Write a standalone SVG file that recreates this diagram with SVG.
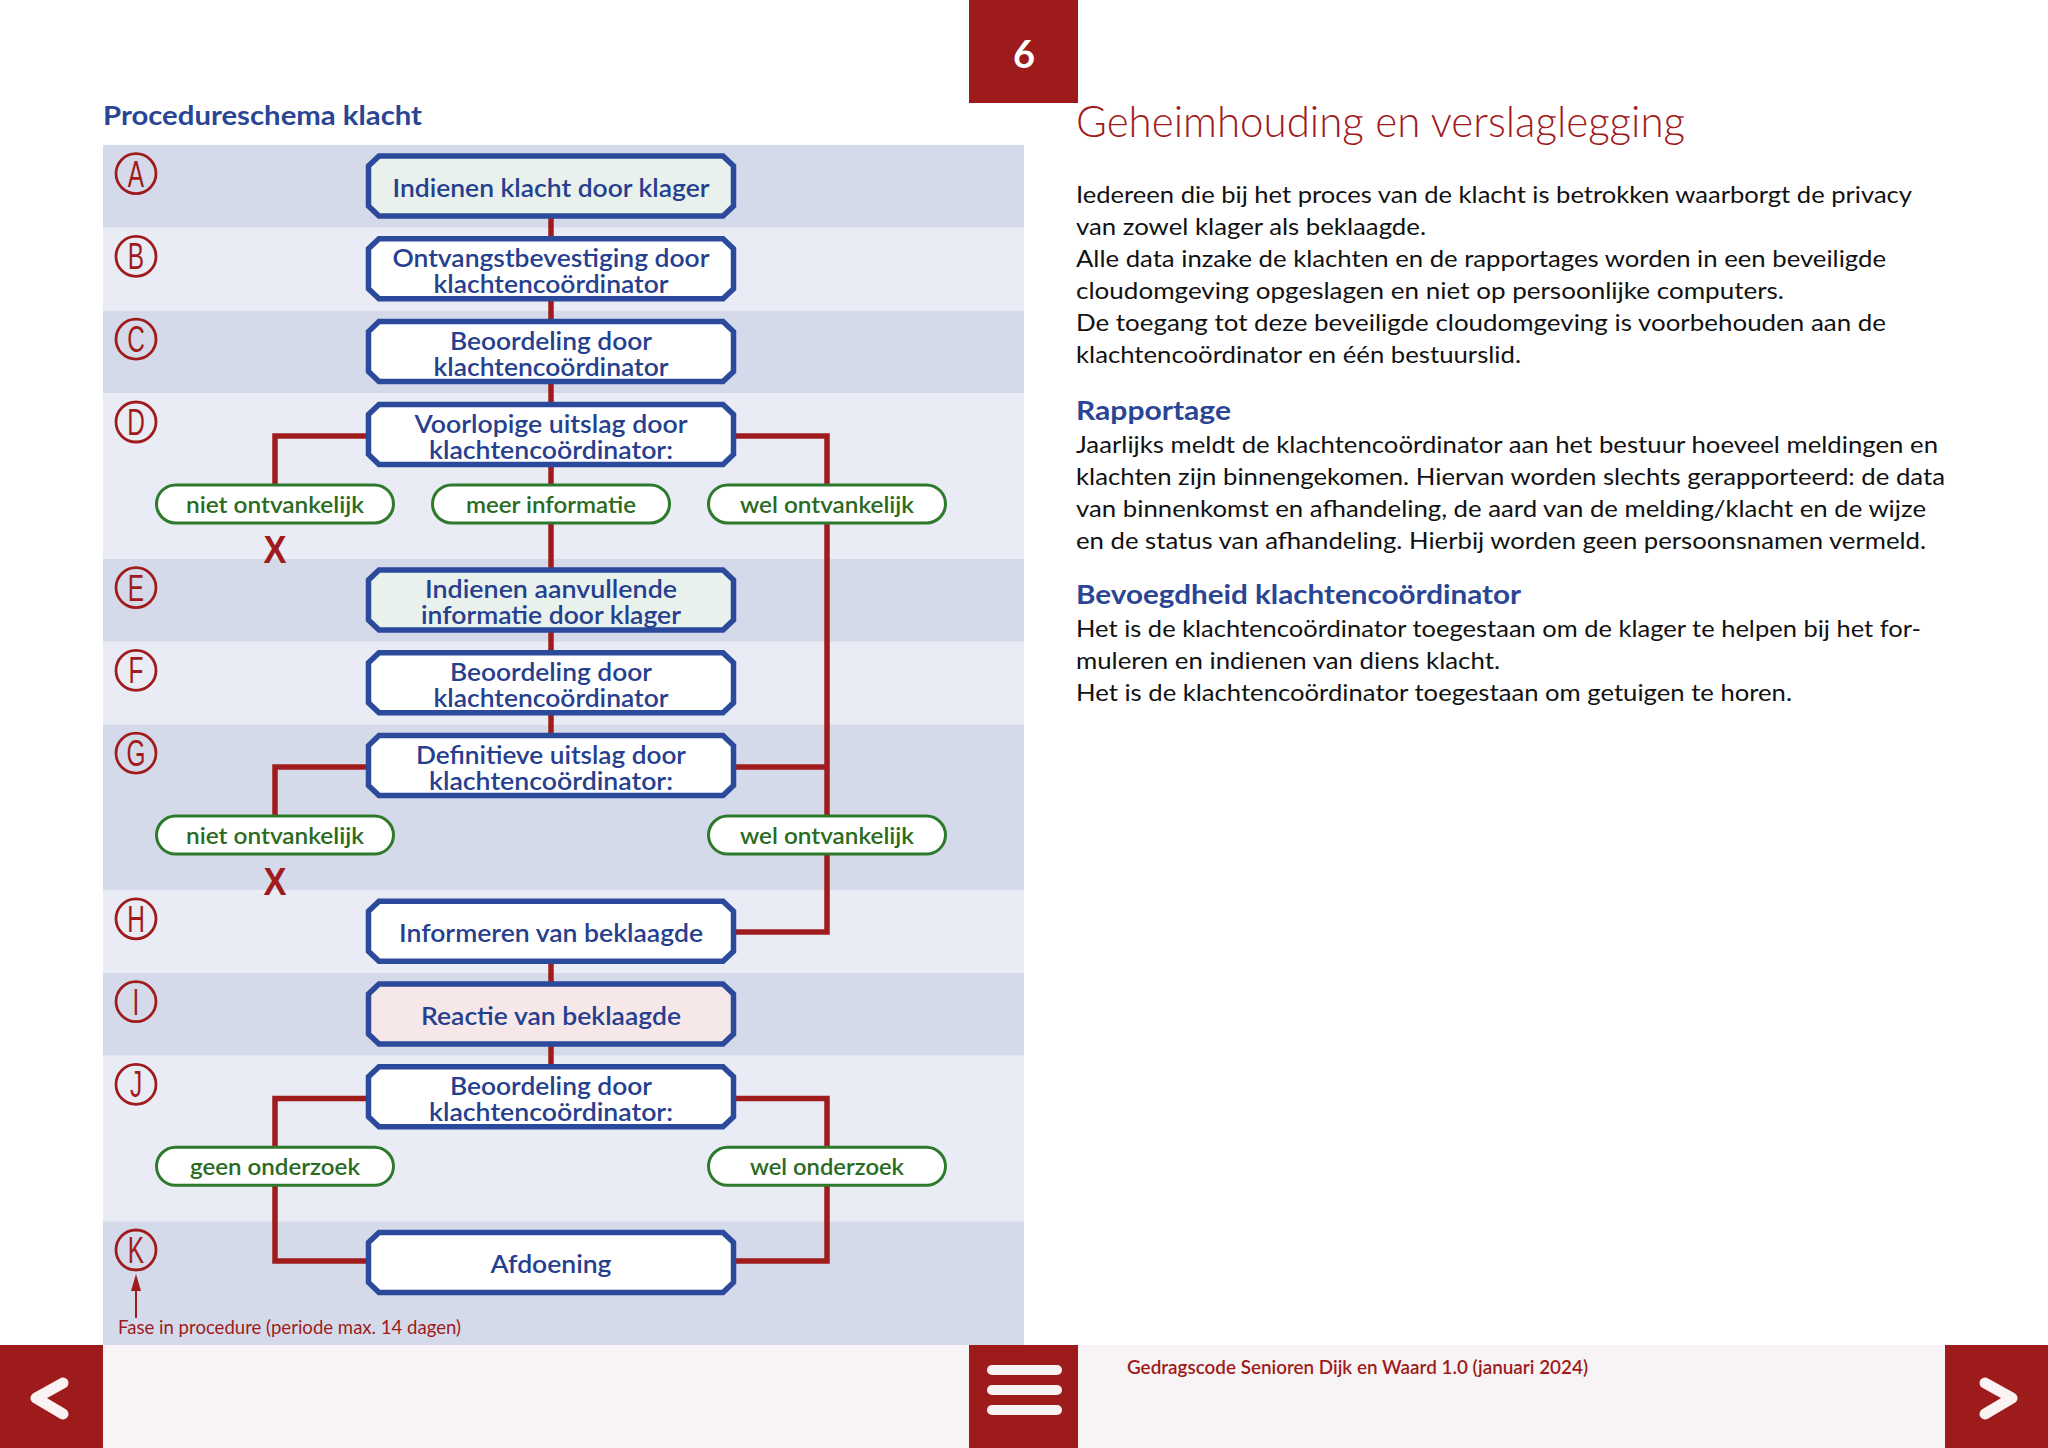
<svg xmlns="http://www.w3.org/2000/svg" width="2048" height="1448" viewBox="0 0 2048 1448">
<defs>
<style>
.bandD{fill:#d4daea}
.bandL{fill:#e9ebf5}
.node{stroke:#2b4a9b;stroke-width:5.5;stroke-linejoin:miter}
.nw{fill:#ffffff}
.ng{fill:#e8f1ec}
.np{fill:#f6e7e9}
.nt{font-family:Lato,"Open Sans","Liberation Sans",sans-serif;font-weight:600;font-size:25.5px;fill:#263f8e;text-anchor:middle}
.pill{fill:#ffffff;stroke:#2d7a2d;stroke-width:3}
.pt{font-family:Lato,"Open Sans","Liberation Sans",sans-serif;font-weight:600;font-size:23px;fill:#2a6b1f;text-anchor:middle}
.con{fill:none;stroke:#a01c1c;stroke-width:5.5}
.circ{fill:none;stroke:#a01c1c;stroke-width:2.8}
.cl{font-family:"Liberation Sans",Arial,sans-serif;font-size:37px;fill:#a01c1c;text-anchor:middle}
.xm{font-family:"Liberation Sans",Arial,sans-serif;font-weight:700;font-size:38px;fill:#a01c1c;text-anchor:middle}
.body{font-family:Lato,"Open Sans","Liberation Sans",sans-serif;font-size:24px;fill:#111111}
.h2{font-family:Lato,"Open Sans","Liberation Sans",sans-serif;font-weight:700;font-size:26px;fill:#2a4593}
.red{fill:#9e1b1b}
.chev{fill:none;stroke:#fbf3f3;stroke-width:11;stroke-linecap:round;stroke-linejoin:round}
</style>
</defs>
<rect x="0" y="0" width="2048" height="1448" fill="#ffffff"/>

<!-- bands -->
<g id="bands">
<rect class="bandD" x="103" y="145" width="921" height="82.8"/>
<rect class="bandL" x="103" y="227.8" width="921" height="82.8"/>
<rect class="bandD" x="103" y="310.6" width="921" height="82.8"/>
<rect class="bandL" x="103" y="393.4" width="921" height="165.6"/>
<rect class="bandD" x="103" y="559" width="921" height="82.8"/>
<rect class="bandL" x="103" y="641.8" width="921" height="82.8"/>
<rect class="bandD" x="103" y="724.6" width="921" height="165.6"/>
<rect class="bandL" x="103" y="890.2" width="921" height="82.8"/>
<rect class="bandD" x="103" y="973" width="921" height="82.8"/>
<rect class="bandL" x="103" y="1055.8" width="921" height="165.6"/>
<rect class="bandD" x="103" y="1221.4" width="921" height="123.6"/>
</g>

<text x="103" y="125" class="h2" textLength="319" lengthAdjust="spacingAndGlyphs">Procedureschema klacht</text>

<!-- phase letters -->
<g id="phases">
<circle class="circ" cx="136" cy="173.6" r="20"/><text class="cl" transform="translate(136,186.6) scale(0.66,1)">A</text>
<circle class="circ" cx="136" cy="256.4" r="20"/><text class="cl" transform="translate(136,269.4) scale(0.66,1)">B</text>
<circle class="circ" cx="136" cy="339.2" r="20"/><text class="cl" transform="translate(136,352.2) scale(0.66,1)">C</text>
<circle class="circ" cx="136" cy="422" r="20"/><text class="cl" transform="translate(136,435) scale(0.66,1)">D</text>
<circle class="circ" cx="136" cy="587.6" r="20"/><text class="cl" transform="translate(136,600.6) scale(0.66,1)">E</text>
<circle class="circ" cx="136" cy="670.4" r="20"/><text class="cl" transform="translate(136,683.4) scale(0.66,1)">F</text>
<circle class="circ" cx="136" cy="753.2" r="20"/><text class="cl" transform="translate(136,766.2) scale(0.66,1)">G</text>
<circle class="circ" cx="136" cy="918.8" r="20"/><text class="cl" transform="translate(136,931.8) scale(0.66,1)">H</text>
<circle class="circ" cx="136" cy="1001.6" r="20"/><text class="cl" transform="translate(136,1014.6) scale(0.66,1)">I</text>
<circle class="circ" cx="136" cy="1084.4" r="20"/><text class="cl" transform="translate(136,1097.4) scale(0.66,1)">J</text>
<circle class="circ" cx="136" cy="1250" r="20"/><text class="cl" transform="translate(136,1263) scale(0.66,1)">K</text>
<line x1="136" y1="1318" x2="136" y2="1288" stroke="#a01c1c" stroke-width="2"/>
<polygon points="136,1274 131,1291 141,1291" fill="#a01c1c"/>
<text x="118" y="1334" font-family="Lato,'Open Sans','Liberation Sans',sans-serif" font-size="19" fill="#9e1b1b" textLength="343" lengthAdjust="spacingAndGlyphs">Fase in procedure (periode max. 14 dagen)</text>
</g>

<!-- connectors -->
<g id="connectors">
<path class="con" d="M551 186 V268.8"/>
<path class="con" d="M551 268.8 V351.6"/>
<path class="con" d="M551 351.6 V434.4"/>
<path class="con" d="M551 434.4 V484"/>
<path class="con" d="M551 524 V600"/>
<path class="con" d="M369 436 H275 V484"/>
<path class="con" d="M733 436 H827 V484"/>
<path class="con" d="M827 524 V815"/>
<path class="con" d="M551 600 V682.8"/>
<path class="con" d="M551 682.8 V765.6"/>
<path class="con" d="M369 767 H275 V815"/>
<path class="con" d="M733 767 H827"/>
<path class="con" d="M827 855 V932 H733"/>
<path class="con" d="M551 931.2 V1014"/>
<path class="con" d="M551 1014 V1096.8"/>
<path class="con" d="M369 1098.5 H275 V1146"/>
<path class="con" d="M733 1098.5 H827 V1146"/>
<path class="con" d="M275 1186 V1261 H369"/>
<path class="con" d="M827 1186 V1261 H733"/>
</g>

<!-- nodes -->
<g id="node-A"><path class="node ng" d="M379 156 H723 L733.5 166 V206 L723 216 H379 L368.5 206 V166 Z"/>
<text class="nt" x="551" y="196.5" textLength="317" lengthAdjust="spacingAndGlyphs">Indienen klacht door klager</text></g>

<g id="node-B"><path class="node nw" d="M379 238.8 H723 L733.5 248.8 V288.8 L723 298.8 H379 L368.5 288.8 V248.8 Z"/>
<text class="nt" x="551" y="267" textLength="317" lengthAdjust="spacingAndGlyphs">Ontvangstbevestiging door</text>
<text class="nt" x="551" y="293" textLength="235" lengthAdjust="spacingAndGlyphs">klachtencoördinator</text></g>

<g id="node-C"><path class="node nw" d="M379 321.6 H723 L733.5 331.6 V371.6 L723 381.6 H379 L368.5 371.6 V331.6 Z"/>
<text class="nt" x="551" y="349.8" textLength="202" lengthAdjust="spacingAndGlyphs">Beoordeling door</text>
<text class="nt" x="551" y="375.8" textLength="235" lengthAdjust="spacingAndGlyphs">klachtencoördinator</text></g>

<g id="node-D"><path class="node nw" d="M379 404.4 H723 L733.5 414.4 V454.4 L723 464.4 H379 L368.5 454.4 V414.4 Z"/>
<text class="nt" x="551" y="432.6" textLength="273" lengthAdjust="spacingAndGlyphs">Voorlopige uitslag door</text>
<text class="nt" x="551" y="458.6" textLength="244" lengthAdjust="spacingAndGlyphs">klachtencoördinator:</text></g>

<g id="pill-D-niet"><rect class="pill" x="156.5" y="484.9" width="237" height="38" rx="19"/>
<text class="pt" x="275" y="513" textLength="178" lengthAdjust="spacingAndGlyphs">niet ontvankelijk</text>
<text class="xm" x="275" y="563" textLength="23" lengthAdjust="spacingAndGlyphs">X</text></g>
<g id="pill-D-meer"><rect class="pill" x="432.5" y="484.9" width="237" height="38" rx="19"/>
<text class="pt" x="551" y="513" textLength="170" lengthAdjust="spacingAndGlyphs">meer informatie</text></g>
<g id="pill-D-wel"><rect class="pill" x="708.5" y="484.9" width="237" height="38" rx="19"/>
<text class="pt" x="827" y="513" textLength="174" lengthAdjust="spacingAndGlyphs">wel ontvankelijk</text></g>

<g id="node-E"><path class="node ng" d="M379 570 H723 L733.5 580 V620 L723 630 H379 L368.5 620 V580 Z"/>
<text class="nt" x="551" y="598.2" textLength="252" lengthAdjust="spacingAndGlyphs">Indienen aanvullende</text>
<text class="nt" x="551" y="624.2" textLength="260" lengthAdjust="spacingAndGlyphs">informatie door klager</text></g>

<g id="node-F"><path class="node nw" d="M379 652.8 H723 L733.5 662.8 V702.8 L723 712.8 H379 L368.5 702.8 V662.8 Z"/>
<text class="nt" x="551" y="681" textLength="202" lengthAdjust="spacingAndGlyphs">Beoordeling door</text>
<text class="nt" x="551" y="707" textLength="235" lengthAdjust="spacingAndGlyphs">klachtencoördinator</text></g>

<g id="node-G"><path class="node nw" d="M379 735.6 H723 L733.5 745.6 V785.6 L723 795.6 H379 L368.5 785.6 V745.6 Z"/>
<text class="nt" x="551" y="763.8" textLength="270" lengthAdjust="spacingAndGlyphs">Definitieve uitslag door</text>
<text class="nt" x="551" y="789.8" textLength="244" lengthAdjust="spacingAndGlyphs">klachtencoördinator:</text></g>

<g id="pill-G-niet"><rect class="pill" x="156.5" y="816.1" width="237" height="38" rx="19"/>
<text class="pt" x="275" y="844.2" textLength="178" lengthAdjust="spacingAndGlyphs">niet ontvankelijk</text>
<text class="xm" x="275" y="895" textLength="23" lengthAdjust="spacingAndGlyphs">X</text></g>
<g id="pill-G-wel"><rect class="pill" x="708.5" y="816.1" width="237" height="38" rx="19"/>
<text class="pt" x="827" y="844.2" textLength="174" lengthAdjust="spacingAndGlyphs">wel ontvankelijk</text></g>

<g id="node-H"><path class="node nw" d="M379 901.2 H723 L733.5 911.2 V951.2 L723 961.2 H379 L368.5 951.2 V911.2 Z"/>
<text class="nt" x="551" y="941.7" textLength="304" lengthAdjust="spacingAndGlyphs">Informeren van beklaagde</text></g>

<g id="node-I"><path class="node np" d="M379 984 H723 L733.5 994 V1034 L723 1044 H379 L368.5 1034 V994 Z"/>
<text class="nt" x="551" y="1024.5" textLength="260" lengthAdjust="spacingAndGlyphs">Reactie van beklaagde</text></g>

<g id="node-J"><path class="node nw" d="M379 1066.8 H723 L733.5 1076.8 V1116.8 L723 1126.8 H379 L368.5 1116.8 V1076.8 Z"/>
<text class="nt" x="551" y="1095" textLength="202" lengthAdjust="spacingAndGlyphs">Beoordeling door</text>
<text class="nt" x="551" y="1121" textLength="244" lengthAdjust="spacingAndGlyphs">klachtencoördinator:</text></g>

<g id="pill-J-geen"><rect class="pill" x="156.5" y="1147.3" width="237" height="38" rx="19"/>
<text class="pt" x="275" y="1175.4" textLength="170" lengthAdjust="spacingAndGlyphs">geen onderzoek</text></g>
<g id="pill-J-wel"><rect class="pill" x="708.5" y="1147.3" width="237" height="38" rx="19"/>
<text class="pt" x="827" y="1175.4" textLength="154" lengthAdjust="spacingAndGlyphs">wel onderzoek</text></g>

<g id="node-K"><path class="node nw" d="M379 1232.4 H723 L733.5 1242.4 V1282.4 L723 1292.4 H379 L368.5 1282.4 V1242.4 Z"/>
<text class="nt" x="551" y="1272.9" textLength="121" lengthAdjust="spacingAndGlyphs">Afdoening</text></g>

<!-- right page -->
<rect class="red" x="969" y="0" width="109" height="103"/>
<text x="1024" y="68" text-anchor="middle" font-family="Lato,'Open Sans','Liberation Sans',sans-serif" font-weight="700" font-size="38" fill="#ffffff">6</text>
<text x="1076" y="137" font-family="Lato,'Open Sans','Liberation Sans',sans-serif" font-weight="300" font-size="44" fill="#a01c1c" textLength="609" lengthAdjust="spacingAndGlyphs">Geheimhouding en verslaglegging</text>

<g class="body">
<text x="1076" y="202.5" textLength="836" lengthAdjust="spacingAndGlyphs">Iedereen die bij het proces van de klacht is betrokken waarborgt de privacy</text>
<text x="1076" y="234.5" textLength="350" lengthAdjust="spacingAndGlyphs">van zowel klager als beklaagde.</text>
<text x="1076" y="266.5" textLength="810" lengthAdjust="spacingAndGlyphs">Alle data inzake de klachten en de rapportages worden in een beveiligde</text>
<text x="1076" y="298.5" textLength="708" lengthAdjust="spacingAndGlyphs">cloudomgeving opgeslagen en niet op persoonlijke computers.</text>
<text x="1076" y="330.5" textLength="810" lengthAdjust="spacingAndGlyphs">De toegang tot deze beveiligde cloudomgeving is voorbehouden aan de</text>
<text x="1076" y="362.5" textLength="445" lengthAdjust="spacingAndGlyphs">klachtencoördinator en één bestuurslid.</text>
<text x="1076" y="452.5" textLength="862" lengthAdjust="spacingAndGlyphs">Jaarlijks meldt de klachtencoördinator aan het bestuur hoeveel meldingen en</text>
<text x="1076" y="484.5" textLength="869" lengthAdjust="spacingAndGlyphs">klachten zijn binnengekomen. Hiervan worden slechts gerapporteerd: de data</text>
<text x="1076" y="516.5" textLength="850" lengthAdjust="spacingAndGlyphs">van binnenkomst en afhandeling, de aard van de melding/klacht en de wijze</text>
<text x="1076" y="548.5" textLength="850" lengthAdjust="spacingAndGlyphs">en de status van afhandeling. Hierbij worden geen persoonsnamen vermeld.</text>
<text x="1076" y="636.5" textLength="845" lengthAdjust="spacingAndGlyphs">Het is de klachtencoördinator toegestaan om de klager te helpen bij het for-</text>
<text x="1076" y="668.5" textLength="424" lengthAdjust="spacingAndGlyphs">muleren en indienen van diens klacht.</text>
<text x="1076" y="700.5" textLength="716" lengthAdjust="spacingAndGlyphs">Het is de klachtencoördinator toegestaan om getuigen te horen.</text>
</g>
<text x="1076" y="419.5" class="h2" textLength="155" lengthAdjust="spacingAndGlyphs">Rapportage</text>
<text x="1076" y="603.5" class="h2" textLength="445" lengthAdjust="spacingAndGlyphs">Bevoegdheid klachtencoördinator</text>

<!-- footer -->
<g id="footer">
<rect x="103" y="1345" width="1842" height="103" fill="#f8f3f4"/>
<rect class="red" x="0" y="1345" width="103" height="103"/>
<rect class="red" x="969" y="1345" width="109" height="103"/>
<rect class="red" x="1945" y="1345" width="103" height="103"/>
<polyline class="chev" points="63,1383 36,1398 63,1414"/>
<polyline class="chev" points="1985,1383 2012,1398 1985,1414"/>
<rect x="987" y="1365" width="75" height="10" rx="5" fill="#fbf3f3"/>
<rect x="987" y="1385" width="75" height="10" rx="5" fill="#fbf3f3"/>
<rect x="987" y="1405" width="75" height="10" rx="5" fill="#fbf3f3"/>
<text x="1127" y="1374" font-family="Lato,'Open Sans','Liberation Sans',sans-serif" font-weight="600" font-size="19" fill="#9e1b1b" textLength="461" lengthAdjust="spacingAndGlyphs">Gedragscode Senioren Dijk en Waard 1.0 (januari 2024)</text>
</g>
</svg>
